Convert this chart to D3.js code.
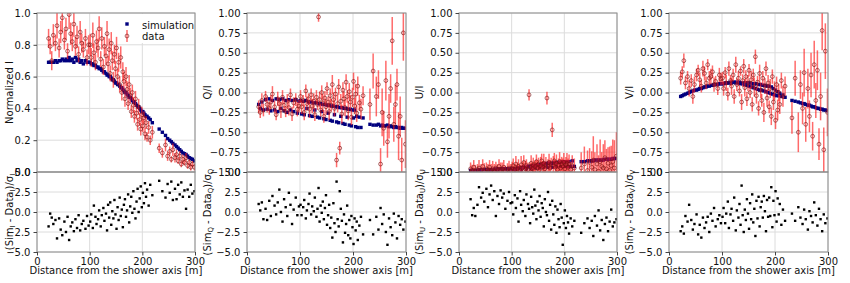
<!DOCTYPE html>
<html>
<head>
<meta charset="utf-8">
<script src="https://cdn.jsdelivr.net/npm/d3@7"></script>
<style>
  body { margin: 0; background: #fff; }
  svg { display: block; font-family: "DejaVu Sans", sans-serif; }
</style>
</head>
<body>
<svg id="chart" width="850" height="283"></svg>
<script>
// distance of each antenna from the shower axis [m]
const dist = [22,25,28,31,35,38,42,45,48,52,55,58,61,64,67,70,73,76,79,82,85,88,92,95,98,
  101,103,106,108,111,113,116,118,121,123,126,128,131,133,135,137,139,141,143,145,147,149,151,153,155,157,159,161,163,165,167,169,171,173,175,177,179,181,183,185,187,189,191,193,195,197,199,201,203,205,207,209,212,215,219,
  232,238,244,248,252,255,258,262,265,268,271,274,277,280,283,286,289,292,295,299];

// Stokes I (normalized)
const iSim = [0.69,0.69,0.69,0.69,0.70,0.69,0.70,0.70,0.71,0.70,0.71,0.70,0.72,0.70,0.71,0.69,0.72,0.70,0.71,0.69,0.70,0.68,0.70,0.69,0.69,
  0.69,0.68,0.68,0.67,0.67,0.66,0.66,0.65,0.65,0.64,0.63,0.63,0.62,0.61,0.61,0.60,0.60,0.59,0.58,0.58,0.57,0.56,0.56,0.55,0.55,0.54,0.53,0.53,0.52,0.51,0.50,0.50,0.49,0.48,0.47,0.47,0.46,0.45,0.44,0.44,0.43,0.42,0.41,0.41,0.40,0.39,0.38,0.38,0.37,0.36,0.35,0.35,0.34,0.33,0.31,
  0.27,0.25,0.23,0.21,0.20,0.19,0.18,0.17,0.16,0.15,0.14,0.13,0.12,0.115,0.11,0.10,0.09,0.085,0.08,0.07];
const iData = [0.84,0.79,0.70,0.86,0.81,0.92,0.78,0.88,0.97,0.83,0.90,0.76,0.99,0.87,0.82,0.93,0.79,0.85,0.74,0.88,0.81,0.77,0.84,0.72,0.80,
  0.80,0.72,0.86,0.75,0.69,0.82,0.78,0.90,0.71,0.84,0.66,0.79,0.73,0.87,0.68,0.77,0.62,0.81,0.70,0.58,0.74,0.65,0.78,0.60,0.69,0.55,0.72,0.50,0.63,0.57,0.46,0.60,0.52,0.43,0.55,0.48,0.38,0.50,0.42,0.35,0.46,0.37,0.30,0.41,0.33,0.27,0.36,0.29,0.34,0.24,0.31,0.22,0.28,0.20,0.25,
  0.15,0.12,0.17,0.10,0.13,0.08,0.14,0.09,0.11,0.07,0.10,0.05,0.08,0.06,0.09,0.04,0.06,0.03,0.05,0.03];
const iErr = [0.06,0.05,0.06,0.07,0.05,0.08,0.06,0.07,0.09,0.06,0.07,0.05,0.09,0.07,0.06,0.08,0.06,0.07,0.05,0.07,0.06,0.05,0.06,0.05,0.06,
  0.07,0.06,0.08,0.06,0.05,0.07,0.06,0.08,0.05,0.07,0.05,0.06,0.06,0.08,0.05,0.07,0.05,0.07,0.06,0.05,0.06,0.05,0.07,0.05,0.06,0.05,0.07,0.05,0.06,0.06,0.05,0.06,0.05,0.04,0.06,0.05,0.04,0.05,0.05,0.04,0.05,0.04,0.04,0.05,0.04,0.04,0.05,0.04,0.04,0.04,0.04,0.03,0.04,0.03,0.04,
  0.03,0.03,0.04,0.03,0.03,0.02,0.04,0.03,0.03,0.02,0.03,0.02,0.03,0.02,0.03,0.02,0.02,0.02,0.02,0.02];
const iRes = [-1.8,-0.2,-0.7,-1.5,-1.0,-3.3,-0.8,-2.2,-2.9,-1.2,-2.5,-0.6,-3.5,-1.8,-1.3,-2.4,-0.9,-2.0,-0.4,-2.3,-1.5,-1.1,-2.1,-0.5,-1.7,
  -1.2,-0.3,-2.0,0.8,-0.6,-1.5,-0.9,0.2,-1.8,-0.4,0.5,-1.1,-0.2,-2.3,0.9,-0.7,1.2,-1.6,0.1,-0.8,1.5,-0.3,-2.1,0.6,-1.0,1.8,-0.5,0.3,-1.9,0.9,1.6,-0.6,0.2,2.2,-1.3,0.7,1.9,-0.1,2.6,0.4,-0.8,1.3,2.9,0.0,1.7,3.2,0.6,2.4,1.1,3.6,1.9,2.8,0.8,3.4,2.1,
  3.9,2.6,1.8,3.5,2.4,3.8,1.5,2.9,1.6,3.4,2.2,3.7,1.9,2.7,0.4,2.8,1.9,3.4,2.3,2.6];

// uncertainty of the polarization fractions (Q/I, U/I, V/I)
const polErr = [0.08,0.07,0.09,0.08,0.07,0.10,0.08,0.09,0.10,0.08,0.07,0.09,0.08,0.10,0.09,0.08,0.07,0.09,0.10,0.08,0.09,0.07,0.08,0.09,0.08,
  0.08,0.09,0.07,0.10,0.08,0.09,0.07,0.11,0.08,0.09,0.10,0.08,0.09,0.07,0.06,0.10,0.08,0.09,0.11,0.08,0.09,0.10,0.08,0.07,0.11,0.09,0.08,0.12,0.09,0.10,0.08,0.09,0.11,0.10,0.08,0.09,0.12,0.10,0.09,0.11,0.10,0.08,0.12,0.11,0.09,0.10,0.12,0.11,0.10,0.13,0.11,0.12,0.10,0.13,0.12,
  0.20,0.22,0.25,0.18,0.20,0.30,0.22,0.25,0.20,0.28,0.18,0.30,0.22,0.25,0.20,0.30,0.25,0.28,0.35,0.30];

// Q/I
const qSim = [-0.15,-0.20,-0.12,-0.22,-0.09,-0.21,-0.08,-0.23,-0.10,-0.22,-0.08,-0.24,-0.09,-0.20,-0.08,-0.23,-0.10,-0.25,-0.09,-0.22,-0.10,-0.24,-0.09,-0.26,-0.11,
  -0.10,-0.27,-0.11,-0.28,-0.10,-0.20,-0.12,-0.29,-0.12,-0.30,-0.13,-0.22,-0.13,-0.31,-0.14,-0.32,-0.14,-0.24,-0.15,-0.33,-0.15,-0.34,-0.16,-0.26,-0.16,-0.35,-0.17,-0.36,-0.17,-0.28,-0.18,-0.37,-0.18,-0.38,-0.19,-0.30,-0.19,-0.39,-0.20,-0.40,-0.20,-0.31,-0.21,-0.41,-0.21,-0.42,-0.22,-0.32,-0.22,-0.43,-0.30,-0.44,-0.31,-0.44,-0.32,
  -0.40,-0.41,-0.41,-0.40,-0.42,-0.41,-0.42,-0.42,-0.41,-0.43,-0.42,-0.43,-0.44,-0.43,-0.44,-0.44,-0.45,-0.44,-0.45,-0.45];
const qData = [-0.18,-0.25,-0.10,-0.22,-0.05,-0.15,-0.20,-0.12,-0.02,-0.18,-0.28,-0.08,-0.14,-0.22,-0.06,-0.16,-0.24,-0.11,-0.19,-0.03,-0.27,-0.13,-0.09,-0.21,-0.17,
  -0.05,-0.18,-0.10,-0.25,0.02,-0.14,-0.08,-0.21,-0.03,-0.17,-0.11,-0.28,-0.06,-0.15,0.95,-0.09,-0.22,0.00,-0.13,-0.30,-0.07,-0.18,0.05,-0.12,-0.24,-0.04,-0.16,0.10,-0.09,-0.20,-0.02,-0.85,-0.14,0.07,-0.70,-0.11,-0.27,0.03,-0.08,-0.19,0.13,-0.05,-0.23,0.01,-0.12,-0.31,-0.06,0.14,-0.17,-0.02,-0.26,0.08,-0.13,-0.21,-0.04,
  -0.15,0.27,-0.05,0.10,-0.90,-0.25,-0.45,0.15,-0.62,-0.30,0.05,0.65,-0.40,-0.15,0.10,-0.55,-0.30,-0.85,0.75,-0.65];
const qRes = [1.0,0.2,1.2,-0.9,0.4,-1.0,1.4,-0.5,2.0,0.8,-0.3,1.2,2.8,0.0,-1.2,1.6,0.6,-0.5,2.4,0.9,-1.5,0.3,1.8,-0.4,0.7,
  0.9,-0.4,0.6,1.5,-0.8,0.2,1.0,2.3,-0.3,0.7,0.1,1.8,-0.6,0.4,3.0,-1.2,0.8,-0.1,1.3,-0.9,0.5,2.1,-1.6,-0.4,0.9,-2.0,-0.7,-3.2,1.1,-1.4,-2.5,3.8,-0.9,-1.8,2.6,0.4,-1.1,-3.8,-0.3,-2.6,-1.5,0.8,-2.9,-1.0,-3.3,-0.5,-1.9,-4.0,-0.8,-2.3,-1.2,-3.5,-1.7,-0.6,-2.8,
  -1.0,-2.8,-0.6,-2.2,0.5,-1.5,-0.3,-2.5,-4.1,-0.8,-1.9,-2.9,-0.2,-1.3,-3.3,-0.5,-1.6,-0.9,-2.2,-1.2];

// U/I
const uSim = [-0.98,-0.98,-0.98,-0.98,-0.98,-0.97,-0.98,-0.97,-0.97,-0.97,-0.97,-0.97,-0.97,-0.97,-0.97,-0.96,-0.97,-0.96,-0.96,-0.96,-0.96,-0.96,-0.96,-0.96,-0.96,
  -0.96,-0.96,-0.96,-0.97,-0.95,-0.95,-0.95,-0.97,-0.94,-0.94,-0.94,-0.96,-0.93,-0.93,-0.93,-0.96,-0.92,-0.92,-0.92,-0.95,-0.92,-0.91,-0.91,-0.95,-0.91,-0.90,-0.90,-0.94,-0.90,-0.90,-0.89,-0.94,-0.89,-0.89,-0.89,-0.94,-0.89,-0.88,-0.88,-0.93,-0.88,-0.88,-0.88,-0.93,-0.88,-0.87,-0.87,-0.93,-0.87,-0.87,-0.93,-0.87,-0.93,-0.86,-0.93,
  -0.87,-0.87,-0.86,-0.86,-0.86,-0.86,-0.85,-0.85,-0.85,-0.85,-0.85,-0.85,-0.84,-0.84,-0.84,-0.84,-0.84,-0.83,-0.83,-0.83];
const uData = [-0.96,-0.98,-0.94,-0.99,-0.97,-0.95,-0.98,-0.93,-0.99,-0.96,-0.97,-0.94,-0.98,-0.96,-0.99,-0.95,-0.97,-0.93,-0.98,-0.96,-0.94,-0.99,-0.97,-0.95,-0.98,
  -0.95,-0.92,-0.97,-0.90,-0.96,-0.93,-0.98,-0.91,-0.95,-0.88,-0.96,-0.92,-0.97,-0.03,-0.94,-0.89,-0.96,-0.91,-0.98,-0.93,-0.87,-0.95,-0.90,-0.97,-0.92,-0.86,-0.94,-0.89,-0.96,-0.91,-0.07,-0.93,-0.88,-0.95,-0.90,-0.47,-0.92,-0.86,-0.94,-0.89,-0.97,-0.91,-0.87,-0.95,-0.90,-0.93,-0.88,-0.96,-0.91,-0.89,-0.94,-0.90,-0.97,-0.92,-0.95,
  -0.95,-0.90,-0.98,-0.88,-0.94,-0.85,-0.97,-0.90,-0.99,-0.87,-0.93,-0.95,-0.82,-0.96,-0.89,-0.98,-0.92,-0.87,-0.95,-0.80];
const uRes = [1.6,-0.4,0.5,-0.5,0.9,3.1,1.8,2.4,1.3,2.9,0.6,2.2,3.3,1.5,2.6,-0.5,2.0,1.0,2.7,1.8,2.3,0.4,1.4,2.5,1.1,
  1.2,-0.3,2.1,0.5,1.7,-1.2,2.6,0.9,0.1,1.5,-0.5,2.2,1.0,0.4,-1.4,1.9,0.6,-0.2,2.8,0.8,-0.9,1.3,0.2,2.0,-0.6,1.1,0.5,-1.8,1.6,0.0,-0.4,2.5,-1.1,0.9,-2.2,1.4,-0.3,-1.6,0.7,-2.6,0.3,-0.9,-1.9,1.0,-0.7,-4.1,-1.4,0.2,-2.0,-0.5,-1.3,-2.7,-0.8,-1.8,-1.1,
  -2.6,-1.4,-0.8,-2.0,-1.1,-3.0,-0.5,-1.7,0.2,-2.3,-1.0,-3.5,-1.5,-0.7,-2.4,-1.2,0.3,-1.8,-1.3,-0.9];

// V/I
const vSim = [-0.05,-0.04,-0.03,-0.02,-0.01,0.00,0.01,0.02,0.03,0.03,0.04,0.05,0.05,0.06,0.07,0.07,0.08,0.08,0.09,0.09,0.10,0.10,0.10,0.11,0.11,
  0.11,0.11,0.12,0.12,0.12,0.12,0.13,0.12,0.13,0.13,0.12,0.13,0.12,0.13,0.11,0.12,0.11,0.12,0.10,0.12,0.09,0.12,0.08,0.12,0.07,0.11,0.06,0.11,0.05,0.11,0.04,0.10,0.03,0.10,0.03,0.09,0.02,0.09,0.01,0.08,0.00,0.08,-0.01,0.07,-0.02,0.05,-0.03,0.03,-0.04,0.01,-0.04,-0.01,-0.05,-0.03,-0.06,
  -0.10,-0.11,-0.12,-0.13,-0.14,-0.14,-0.15,-0.16,-0.16,-0.17,-0.18,-0.18,-0.19,-0.20,-0.20,-0.21,-0.21,-0.22,-0.22,-0.23];
const vData = [0.18,0.26,0.40,0.12,0.20,0.05,0.15,-0.05,0.10,0.22,0.28,0.16,0.08,0.30,0.24,0.12,0.35,0.18,0.20,0.26,0.10,0.14,0.05,0.22,0.17,
  0.18,0.05,0.25,0.12,-0.02,0.30,0.15,0.08,0.22,-0.05,0.35,0.10,0.18,0.02,0.27,-0.12,0.15,0.33,0.06,0.20,-0.08,0.12,0.28,0.00,0.16,-0.15,0.22,0.07,0.45,-0.04,0.13,-0.20,0.24,0.03,-0.10,0.18,-0.25,0.08,0.30,-0.07,0.12,-0.18,0.05,-0.30,0.20,-0.12,0.02,-0.35,0.10,-0.22,0.00,-0.15,0.15,-0.05,0.08,
  -0.32,0.18,-0.50,0.10,-0.20,0.25,-0.40,0.05,-0.30,0.22,-0.55,0.35,-0.10,0.28,-0.65,-0.05,0.78,-0.72,0.52,-0.25];
const vRes = [-2.4,-1.8,-2.7,-0.5,-1.2,0.9,-1.0,-2.2,-1.5,-0.3,-2.8,-1.6,-3.2,-0.7,-2.0,-1.3,-0.6,-2.5,-0.2,-1.1,0.5,-1.8,-0.9,-0.4,-1.4,
  -0.6,0.5,-1.4,-0.2,1.3,-2.0,-0.3,0.4,-1.1,1.8,-2.3,0.2,-0.7,1.0,-1.6,3.3,-0.4,-2.5,0.3,-1.0,1.6,-0.2,-2.1,1.1,-0.9,2.2,-1.3,0.4,-3.0,1.4,-0.8,1.9,-1.8,0.6,1.3,-0.7,2.0,0.1,-2.4,1.5,-0.6,1.8,-0.5,3.1,-1.9,1.4,-0.4,2.6,-1.2,1.7,-0.3,1.0,-1.6,0.3,-1.1,
  -0.2,-1.1,0.6,-0.7,-1.5,0.3,-0.9,-2.2,0.1,-0.5,-1.3,1.2,-0.4,-1.7,0.4,-0.9,-2.4,-0.3,-1.4,-0.8];

// ticks
const distTicks = [0, 100, 200, 300];
const iTicks = [0, 0.2, 0.4, 0.6, 0.8, 1.0];
const polTicks = [-1, -0.75, -0.5, -0.25, 0, 0.25, 0.5, 0.75, 1];
const resTicks = [-5, -2.5, 0, 2.5, 5];

const svg = d3.select("#chart");
const topY = [13, 172], botY = [172, 252];
const gridColor = "#dcdcdc", frameColor = "#8c8c8c";
const barColor = "#ff1a1a", markColor = "#7a1010";

const panels = [
  {left: 37,  right: 195, val: iData, err: iErr,   sim: iSim, res: iRes, dom: [0, 1],  ticks: iTicks,   fmt: d3.format(".1f"), label: "Normalized I", sub: "I", labelDx: 24},
  {left: 247, right: 406, val: qData, err: polErr, sim: qSim, res: qRes, dom: [-1, 1], ticks: polTicks, fmt: d3.format(".2f"), label: "Q/I", sub: "Q", labelDx: 36},
  {left: 459, right: 617, val: uData, err: polErr, sim: uSim, res: uRes, dom: [-1, 1], ticks: polTicks, fmt: d3.format(".2f"), label: "U/I", sub: "U", labelDx: 36},
  {left: 669, right: 828, val: vData, err: polErr, sim: vSim, res: vRes, dom: [-1, 1], ticks: polTicks, fmt: d3.format(".2f"), label: "V/I", sub: "V", labelDx: 36}
];

const idx = d3.range(dist.length);

function styleAxis(a) {
  a.attr("font-family", "DejaVu Sans").attr("font-size", 10);
  a.select(".domain").remove();
  a.selectAll(".tick line").attr("stroke", "#444");
  a.selectAll(".tick text").attr("fill", "#111");
}

panels.forEach((p, k) => {
  const x = d3.scaleLinear().domain([0, 300]).range([p.left, p.right]);
  const y = d3.scaleLinear().domain(p.dom).range([topY[1], topY[0]]);
  const yr = d3.scaleLinear().domain([-5, 5]).range([botY[1], botY[0]]);
  const g = svg.append("g");

  const clipTop = "clipTop" + k, clipBot = "clipBot" + k;
  svg.append("clipPath").attr("id", clipTop).append("rect")
    .attr("x", p.left).attr("y", topY[0]).attr("width", p.right - p.left).attr("height", topY[1] - topY[0]);
  svg.append("clipPath").attr("id", clipBot).append("rect")
    .attr("x", p.left).attr("y", botY[0]).attr("width", p.right - p.left).attr("height", botY[1] - botY[0]);

  // grids
  const grid = g.append("g").attr("stroke", gridColor).attr("stroke-width", 1);
  grid.selectAll(".gh").data(p.ticks).join("line")
    .attr("x1", p.left).attr("x2", p.right).attr("y1", d => y(d)).attr("y2", d => y(d));
  grid.selectAll(".gr").data(resTicks).join("line")
    .attr("x1", p.left).attr("x2", p.right).attr("y1", d => yr(d)).attr("y2", d => yr(d));
  grid.selectAll(".gv").data(distTicks).join("line")
    .attr("x1", d => x(d)).attr("x2", d => x(d)).attr("y1", topY[0]).attr("y2", botY[1]);

  // top panel: simulation, then data with error bars
  const top = g.append("g").attr("clip-path", `url(#${clipTop})`);
  top.append("g").selectAll("rect").data(idx).join("rect")
    .attr("x", i => x(dist[i]) - 1.7).attr("y", i => y(p.sim[i]) - 1.7)
    .attr("width", 3.4).attr("height", 3.4).attr("fill", "#00007f");
  top.append("g").selectAll("line").data(idx).join("line")
    .attr("x1", i => x(dist[i])).attr("x2", i => x(dist[i]))
    .attr("y1", i => y(p.val[i] - p.err[i])).attr("y2", i => y(p.val[i] + p.err[i]))
    .attr("stroke", barColor).attr("stroke-opacity", 0.65).attr("stroke-width", 1.5);
  top.append("g").selectAll("circle").data(idx).join("circle")
    .attr("cx", i => x(dist[i])).attr("cy", i => y(p.val[i])).attr("r", 1.9)
    .attr("fill", "none").attr("stroke", markColor).attr("stroke-opacity", 0.7).attr("stroke-width", 0.9);

  // bottom panel: residuals
  g.append("g").attr("clip-path", `url(#${clipBot})`)
    .selectAll("rect").data(idx).join("rect")
    .attr("x", i => x(dist[i]) - 1.2).attr("y", i => yr(p.res[i]) - 1.2)
    .attr("width", 2.4).attr("height", 2.4).attr("fill", "#000");

  // frames
  g.append("rect").attr("x", p.left).attr("y", topY[0]).attr("width", p.right - p.left).attr("height", topY[1] - topY[0])
    .attr("fill", "none").attr("stroke", frameColor);
  g.append("rect").attr("x", p.left).attr("y", botY[0]).attr("width", p.right - p.left).attr("height", botY[1] - botY[0])
    .attr("fill", "none").attr("stroke", frameColor);

  // axes
  g.append("g").attr("transform", `translate(${p.left},0)`)
    .call(d3.axisLeft(y).tickValues(p.ticks).tickFormat(p.fmt).tickSize(3.5).tickPadding(3))
    .call(styleAxis);
  g.append("g").attr("transform", `translate(${p.left},0)`)
    .call(d3.axisLeft(yr).tickValues(resTicks).tickFormat(d3.format(".1f")).tickSize(3.5).tickPadding(3))
    .call(styleAxis);
  g.append("g").attr("transform", `translate(0,${botY[1]})`)
    .call(d3.axisBottom(x).tickValues(distTicks).tickFormat(d3.format("d")).tickSize(3.5).tickPadding(2))
    .call(styleAxis);

  // labels
  const lx = p.left - p.labelDx;
  g.append("text").attr("transform", `translate(${lx},${(topY[0] + topY[1]) / 2}) rotate(-90)`)
    .attr("text-anchor", "middle").attr("font-size", 10).attr("fill", "#111").text(p.label);
  const rl = g.append("text").attr("transform", `translate(${lx},${(botY[0] + botY[1]) / 2}) rotate(-90)`)
    .attr("text-anchor", "middle").attr("font-size", 10).attr("fill", "#111");
  rl.append("tspan").text("(Sim");
  rl.append("tspan").attr("font-size", 7).attr("dy", 2).text(p.sub);
  rl.append("tspan").attr("dy", -2).text(" - Data");
  rl.append("tspan").attr("font-size", 7).attr("dy", 2).text(p.sub);
  rl.append("tspan").attr("dy", -2).text(")/σ");
  rl.append("tspan").attr("font-size", 7).attr("dy", 2).text(p.sub);
  g.append("text").attr("x", (p.left + p.right) / 2).attr("y", botY[1] + 22)
    .attr("text-anchor", "middle").attr("font-size", 10).attr("fill", "#111")
    .text("Distance from the shower axis [m]");

  // legend in the first panel
  if (k === 0) {
    const lg = g.append("g");
    lg.append("rect").attr("x", 121).attr("y", 14).attr("width", 73).attr("height", 29).attr("fill", "#fff");
    lg.append("rect").attr("x", 125.3).attr("y", 22.3).attr("width", 3.4).attr("height", 3.4).attr("fill", "#00007f");
    lg.append("line").attr("x1", 127).attr("x2", 127).attr("y1", 30).attr("y2", 42)
      .attr("stroke", barColor).attr("stroke-opacity", 0.65).attr("stroke-width", 1.5);
    lg.append("circle").attr("cx", 127).attr("cy", 36).attr("r", 1.9)
      .attr("fill", "none").attr("stroke", markColor).attr("stroke-opacity", 0.7).attr("stroke-width", 0.9);
    lg.append("text").attr("x", 142).attr("y", 28.5).attr("font-size", 10).attr("fill", "#111").text("simulation");
    lg.append("text").attr("x", 142).attr("y", 39.5).attr("font-size", 10).attr("fill", "#111").text("data");
  }
});
</script>
</body>
</html>
